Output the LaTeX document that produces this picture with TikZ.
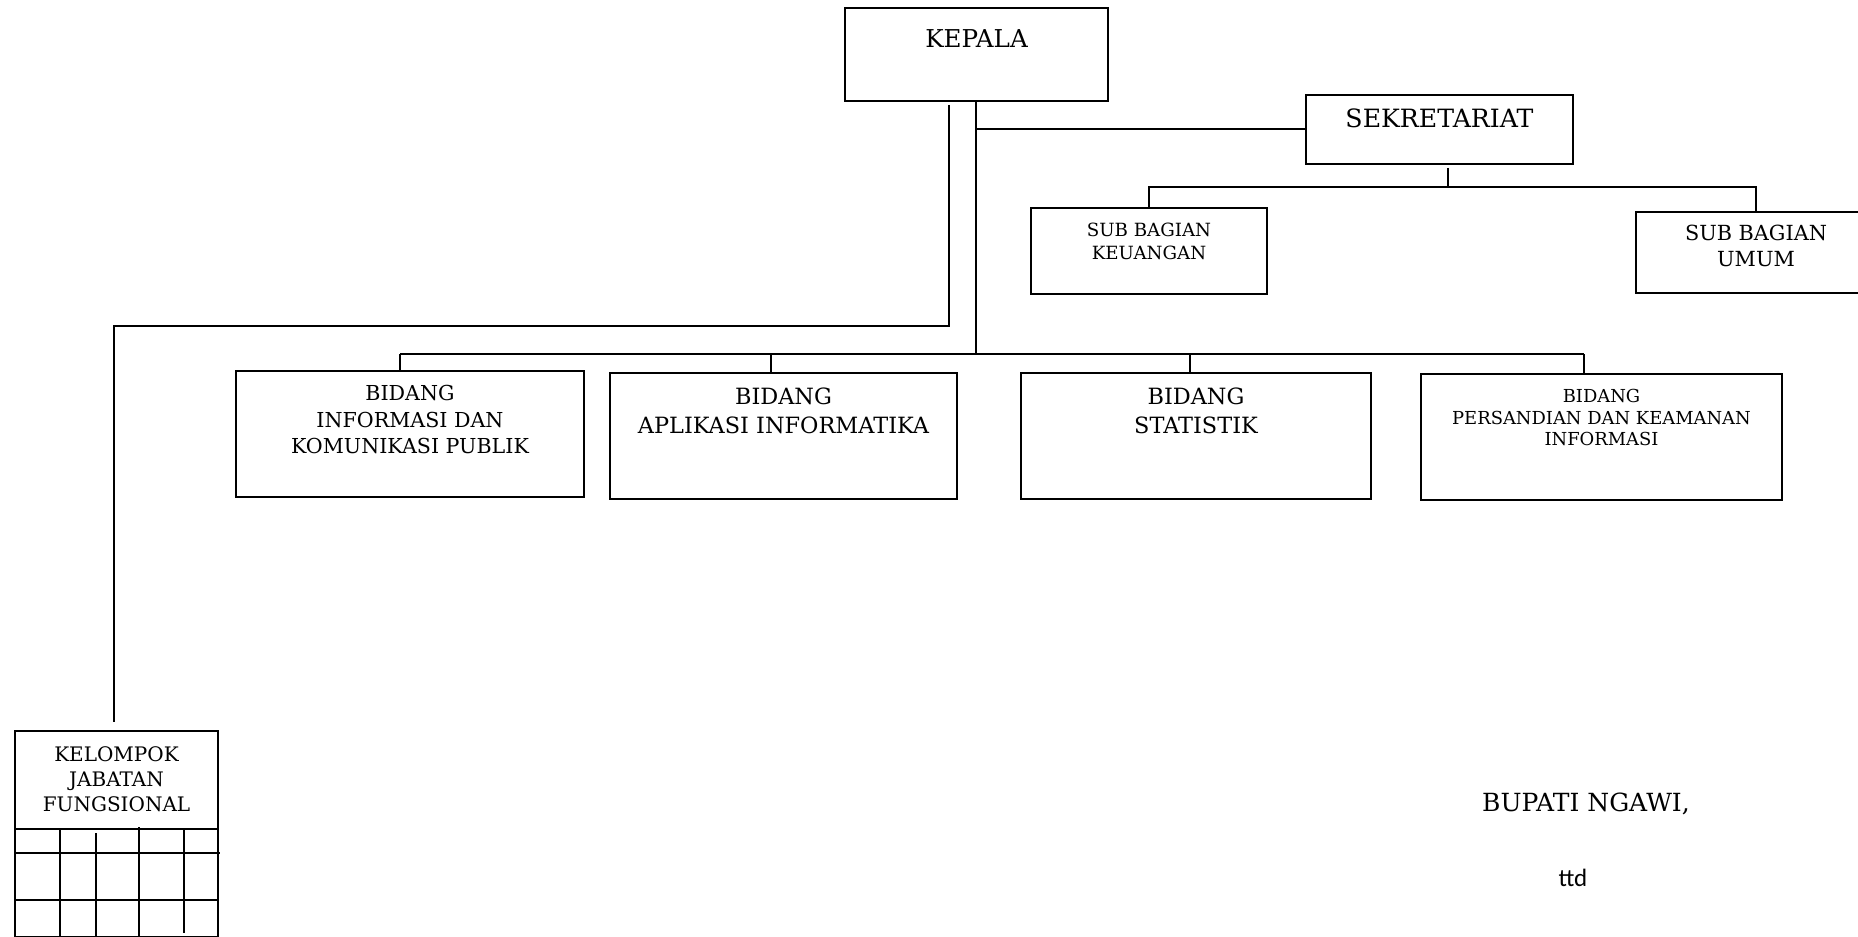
\documentclass[tikz,border=0pt]{standalone}
\usepackage{fontspec}
\setmainfont{DejaVu Serif}
\newfontfamily\ttdfont{Carlito}
\usetikzlibrary{positioning}

\tikzset{
  unitbox/.style={draw, line width=0.9pt, inner sep=0pt},
  unittext/.style={inner sep=0pt, align=center},
  link/.style={line width=0.9pt},
}

\begin{document}
\begin{tikzpicture}[x=0.5pt, y=-0.5pt]
  \useasboundingbox (0,0) rectangle (1858,937);

  % pimpinan dan sekretariat
  \node[unitbox, minimum width=131.5pt, minimum height=46.5pt] (kepala) at (976.5,54.5) {};
  \node[unittext, font=\fontsize{12.3}{15}\selectfont, below=11pt of kepala.north] (kepalaT) {KEPALA};
  \node[unitbox, minimum width=133.5pt, minimum height=34.5pt] (sekre) at (1439.5,129.5) {};
  \node[unittext, font=\fontsize{12.6}{15}\selectfont, below=7pt of sekre.north] (sekreT) {SEKRETARIAT};

  \node[unitbox, minimum width=118pt, minimum height=43pt] (subkeu) at (1149,251) {};
  \node[unittext, font=\fontsize{9.1}{11.5}\selectfont, below=7.5pt of subkeu.north] (subkeuT) {SUB BAGIAN\\KEUANGAN};
  \node[unitbox, minimum width=120pt, minimum height=40.5pt] (subumum) at (1756,252.5) {};
  \node[unittext, font=\fontsize{10.4}{13}\selectfont, below=7pt of subumum.north] (subumumT) {SUB BAGIAN\\UMUM};

  % bidang
  \node[unitbox, minimum width=174pt, minimum height=63pt] (infokom) at (410,434) {};
  \node[unittext, font=\fontsize{10.3}{13.2}\selectfont, below=7.5pt of infokom.north] (infokomT) {BIDANG\\INFORMASI DAN\\KOMUNIKASI PUBLIK};
  \node[unitbox, minimum width=173.5pt, minimum height=63pt] (aptika) at (783.5,436) {};
  \node[unittext, font=\fontsize{11.2}{14.5}\selectfont, below=7.5pt of aptika.north] (aptikaT) {BIDANG\\APLIKASI INFORMATIKA};
  \node[unitbox, minimum width=175pt, minimum height=63pt] (statistik) at (1196,436) {};
  \node[unittext, font=\fontsize{11.2}{14.5}\selectfont, below=7.5pt of statistik.north] (statistikT) {BIDANG\\STATISTIK};
  \node[unitbox, minimum width=180.5pt, minimum height=63pt] (sandi) at (1601.5,437) {};
  \node[unittext, font=\fontsize{8.95}{10.8}\selectfont, below=8pt of sandi.north] (sandiT) {BIDANG\\PERSANDIAN DAN KEAMANAN\\INFORMASI};

  % kelompok jabatan fungsional
  \node[unitbox, minimum width=101.5pt, minimum height=103pt] (jafung) at (116.5,834) {};
  \node[unittext, font=\fontsize{10}{12.5}\selectfont, below=8pt of jafung.north] (jafungT) {KELOMPOK\\JABATAN\\FUNGSIONAL};
  \draw[link] (jafung.west |- 0,829) -- (jafung.east |- 0,829);
  \draw[link] (jafung.west |- 0,853) -- (220,853);
  \draw[link] (jafung.west |- 0,900) -- (jafung.east |- 0,900);
  \foreach \gx/\gt/\gb in {60/829/936, 96/833/936, 139/827/936, 184/829/933}
    \draw[link] (\gx,\gt) -- (\gx,\gb);

  % garis komando
  \coordinate (busL) at (400,354);
  \coordinate (busR) at (1584,354);
  \coordinate (bus2) at (771,354);
  \coordinate (bus3) at (1190,354);
  \coordinate (kbus) at (976,354);
  \coordinate (ksek) at (976,129);
  \coordinate (sbus) at (1448,187);
  \coordinate (jfbend) at (949,326);

  \draw[link] (kepala.south -| kbus) -- (kbus);
  \draw[link] (ksek) -- (sekre.west |- ksek);
  \draw[link] (busL) -- (busR);
  \draw[link] (infokom.north -| busL) -- (busL);
  \draw[link] (aptika.north -| bus2) -- (bus2);
  \draw[link] (statistik.north -| bus3) -- (bus3);
  \draw[link] (sandi.north -| busR) -- (busR);

  \draw[link] ([yshift=-1.5pt]sekre.south -| sbus) -- (sbus);
  \draw[link] (subkeu.north) |- (sbus) -| (subumum.north);

  \draw[link] ([yshift=-1.5pt]kepala.south -| jfbend) -- (jfbend) -| ([xshift=-1.25pt, yshift=4pt]jafung.north);

  % pengesahan
  \node[unittext, font=\fontsize{12.5}{15}\selectfont] (bupati) at (1586,804) {BUPATI NGAWI,};
  \node[unittext, font=\ttdfont\fontsize{12.5}{15}\selectfont] (ttd) at (1573,878) {ttd};
\end{tikzpicture}
\end{document}
